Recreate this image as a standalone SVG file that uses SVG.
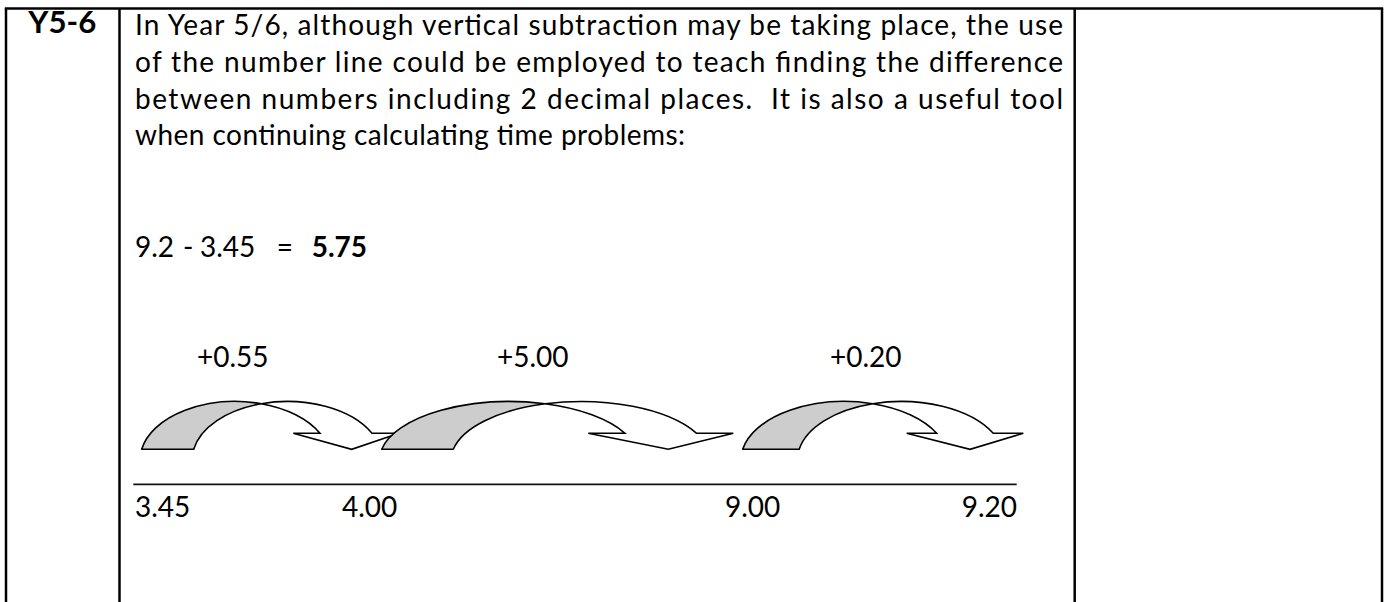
<svg xmlns="http://www.w3.org/2000/svg" width="1387" height="602" viewBox="0 0 1387 602">
<style>
.t{font-family:Lato,"Open Sans","DejaVu Sans",sans-serif;font-size:28px;fill:#000}
.b{font-weight:bold}
.grid{stroke:#000;stroke-width:2.5;fill:none}
.jump-back{fill:#cdcdcd;stroke:#000;stroke-width:1.6;stroke-linejoin:round}
.jump-front{fill:#fff;stroke:#000;stroke-width:1.6;stroke-linejoin:miter}
.nl{stroke:#111;stroke-width:1.8}
</style>
<rect width="1387" height="602" fill="#fff"/>
<g id="table" class="grid">
<line x1="4.8" y1="8.5" x2="1383.2" y2="8.5"/>
<line x1="6" y1="8.5" x2="6" y2="602"/>
<line x1="119.5" y1="8.5" x2="119.5" y2="602"/>
<line x1="1074.7" y1="8.5" x2="1074.7" y2="602"/>
<line x1="1382" y1="8.5" x2="1382" y2="602"/>
</g>
<g id="header">
<text class="t b" x="28.3" y="33.3" style="font-size:29.5px" textLength="68" lengthAdjust="spacingAndGlyphs">Y5-6</text>
</g>
<g id="body-text">
<text class="t" x="135" y="35.3" textLength="928" lengthAdjust="spacing">In Year 5/6, although vertical subtraction may be taking place, the use</text>
<text class="t" x="135" y="72" textLength="928" lengthAdjust="spacing">of the number line could be employed to teach finding the difference</text>
<text class="t" x="135" y="108.7" textLength="928" lengthAdjust="spacing" xml:space="preserve">between numbers including 2 decimal places.  It is also a useful tool</text>
<text class="t" x="135" y="145.3" textLength="550" lengthAdjust="spacing">when continuing calculating time problems:</text>
</g>
<g id="equation">
<text class="t" y="256.7"><tspan x="135">9.2</tspan> <tspan x="183">-</tspan> <tspan x="200">3.45</tspan> <tspan x="276.7">=</tspan> <tspan x="311.7" class="b">5.75</tspan></text>
</g>
<g id="jump-labels">
<text class="t" x="197" y="366.7">+0.55</text>
<text class="t" x="497" y="366.7">+5.00</text>
<text class="t" x="830" y="366.7">+0.20</text>
</g>
<g id="connectors">
<g id="jump-1">
<path class="jump-back" d="M141.7,449.3 A95.2,58.5 0 0 1 261.3,403.7 A95.2,58.5 0 0 0 193.7,449.3 Z"/>
<path class="jump-front" d="M261.3,403.7 A95.2,58.5 0 0 1 372,433.3 L399,433.3 L351.7,449.3 L293.3,433.3 L320,433.3 A95.2,58.5 0 0 0 261.3,403.7 Z"/>
</g>
<g id="jump-2">
<path class="jump-back" d="M381.7,449.3 A129.9,58.5 0 0 1 545.2,403.8 A129.9,58.5 0 0 0 453.3,449.3 Z"/>
<path class="jump-front" d="M545.2,403.8 A129.9,58.5 0 0 1 696.6,433.3 L733.3,433.3 L668.3,449.3 L588.3,433.3 L625,433.3 A129.9,58.5 0 0 0 545.2,403.8 Z"/>
</g>
<g id="jump-3">
<path class="jump-back" d="M742.7,449.3 A103.6,58.5 0 0 1 872.75,403.7 A103.6,58.5 0 0 0 799.2,449.3 Z"/>
<path class="jump-front" d="M872.75,403.7 A103.6,58.5 0 0 1 993.2,433.3 L1023.3,433.3 L970,449.3 L906.7,433.3 L936.7,433.3 A103.6,58.5 0 0 0 872.75,403.7 Z"/>
</g>
</g>
<g id="number-line">
<line class="nl" x1="133.3" y1="484.3" x2="1016.7" y2="484.3"/>
<text class="t" x="135" y="516.7">3.45</text>
<text class="t" x="342" y="516.7">4.00</text>
<text class="t" x="725" y="516.7">9.00</text>
<text class="t" x="1017" y="516.7" text-anchor="end">9.20</text>
</g>
</svg>
